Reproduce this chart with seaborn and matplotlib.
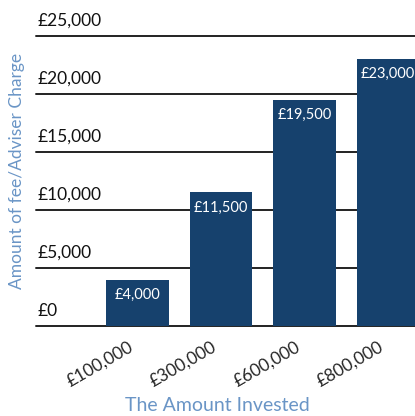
import matplotlib
matplotlib.use("Agg")
import matplotlib.pyplot as plt
import matplotlib.transforms as mtransforms
import seaborn as sns
import pandas as pd

# Chart data
invested = ["£100,000", "£300,000", "£600,000", "£800,000"]
charge = [4000, 11500, 19500, 23000]
charge_labels = ["£4,000", "£11,500", "£19,500", "£23,000"]
y_ticks = [0, 5000, 10000, 15000, 20000, 25000]
y_tick_labels = ["£0", "£5,000", "£10,000", "£15,000", "£20,000", "£25,000"]

bar_color = "#16416d"
label_blue = "#6a95c6"

sns.set_style("white")
plt.rcParams["font.family"] = ["Lato", "DejaVu Sans"]

df = pd.DataFrame({"invested": invested, "charge": charge})

fig = plt.figure(figsize=(4.15, 4.16), dpi=100)
ax = fig.add_axes([0.086, 0.2163, 0.914, 0.6978])

# Horizontal rules behind the bars
for yv in y_ticks:
    ax.axhline(yv, color="#222222", lw=1.4, zorder=0, clip_on=False)

sns.barplot(data=df, x="invested", y="charge", color=bar_color,
            width=0.75, saturation=1, linewidth=0, ax=ax, zorder=2)

ax.set_ylim(0, 25000)
ax.set_xlim(-1.22, 3.32)
for s in ax.spines.values():
    s.set_visible(False)
ax.set_yticks([])
ax.set_xlabel("")
ax.set_ylabel("")

# Y labels sit just above each rule, left aligned
trans = mtransforms.blended_transform_factory(ax.transAxes, ax.transData)
for yv, lab in zip(y_ticks, y_tick_labels):
    ax.annotate(lab, xy=(0.0, yv), xycoords=trans, xytext=(1, 5),
                textcoords="offset points", ha="left", va="bottom",
                fontsize=12.5, color="#111111", annotation_clip=False)

# Value labels inside top of bars
for i, (v, lab) in enumerate(zip(charge, charge_labels)):
    ax.annotate(lab, xy=(i, v), xytext=(0, -6), textcoords="offset points",
                ha="center", va="top", fontsize=10.5, color="white", zorder=3)

# Rotated category labels
ax.set_xticks(range(len(invested)))
ax.set_xticklabels(invested, rotation=30, fontsize=12.5, ha="center")
ax.tick_params(axis="x", length=0, pad=9)
offset = mtransforms.ScaledTranslation(-38 / 100, 0, fig.dpi_scale_trans)
for t in ax.get_xticklabels():
    t.set_transform(t.get_transform() + offset)

fig.text(0.523, 0.005, "The Amount Invested", ha="center", va="bottom",
         fontsize=14, color=label_blue)
fig.text(0.041, 0.59, "Amount of fee/Adviser Charge", ha="center", va="center",
         rotation=90, fontsize=12.5, color=label_blue)

fig.savefig("out.png", dpi=100)
